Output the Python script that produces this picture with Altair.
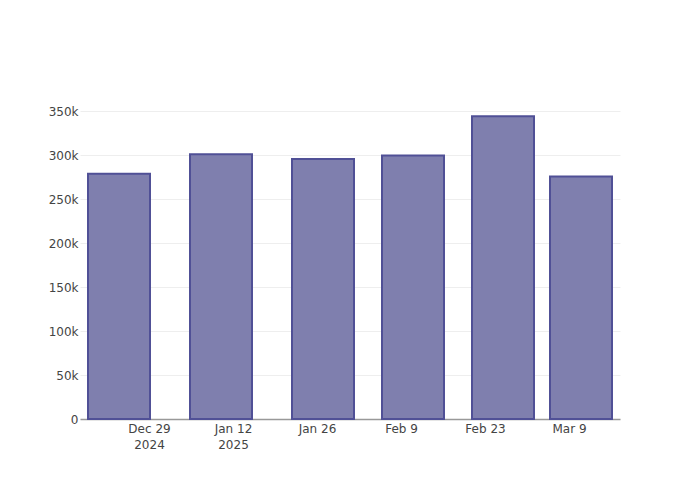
import altair as alt
import pandas as pd

dates = ["2024-12-24", "2025-01-10", "2025-01-27", "2025-02-11", "2025-02-26", "2025-03-11"]
values = [278800, 300900, 295500, 299500, 344100, 275600]

tick_dates = ["2024-12-29", "2025-01-12", "2025-01-26", "2025-02-09", "2025-02-23", "2025-03-09"]
tick_labels = [["Dec 29", "2024"], ["Jan 12", "2025"], ["Jan 26"], ["Feb 9"], ["Feb 23"], ["Mar 9"]]

df = pd.DataFrame({"date": dates, "value": values})

def ms(d):
    return int(pd.Timestamp(d, tz="UTC").timestamp() * 1000)

tick_ms = [ms(d) for d in tick_dates]
expr = ""
for t, lab in zip(tick_ms, tick_labels):
    arr = "[" + ",".join("'" + s + "'" for s in lab) + "]"
    expr += f"abs(time(datum.value) - {t}) < 3600000 ? {arr} : "
expr += "''"

domain = [ms("2024-12-17") + 12 * 3600 * 1000, ms("2025-03-17") + 12 * 3600 * 1000]

chart = alt.Chart(df).mark_bar(
    size=62, fill="#7f7fae", stroke="#505096", strokeWidth=2
).encode(
    x=alt.X("date:T", title=None,
            scale=alt.Scale(type="utc", domain=domain, padding=0, nice=False),
            axis=alt.Axis(values=tick_ms, labelExpr=expr, grid=False, ticks=False,
                          domainColor="#999999", domainWidth=1.5,
                          labelFont="DejaVu Sans", labelFontSize=12, labelColor="#444444",
                          labelPadding=4, labelLineHeight=16, labelFlush=False,
                          labelOverlap=False)),
    y=alt.Y("value:Q", title=None,
            scale=alt.Scale(domain=[0, 362500], nice=False),
            axis=alt.Axis(values=[0, 50000, 100000, 150000, 200000, 250000, 300000, 350000],
                          labelExpr="datum.value == 0 ? '0' : format(datum.value, '~s')",
                          domain=False, ticks=False, grid=True,
                          gridColor="#eeeeee", gridWidth=1,
                          labelFont="DejaVu Sans", labelFontSize=12, labelColor="#444444",
                          labelPadding=2)),
).properties(
    width=540, height=319,
    autosize=alt.AutoSizeParams(type="none"),
    padding={"left": 72, "top": 92, "right": 72, "bottom": 72},
).configure_view(stroke=None)

chart.save("out.html", embed_options={"renderer": "svg", "actions": False})
